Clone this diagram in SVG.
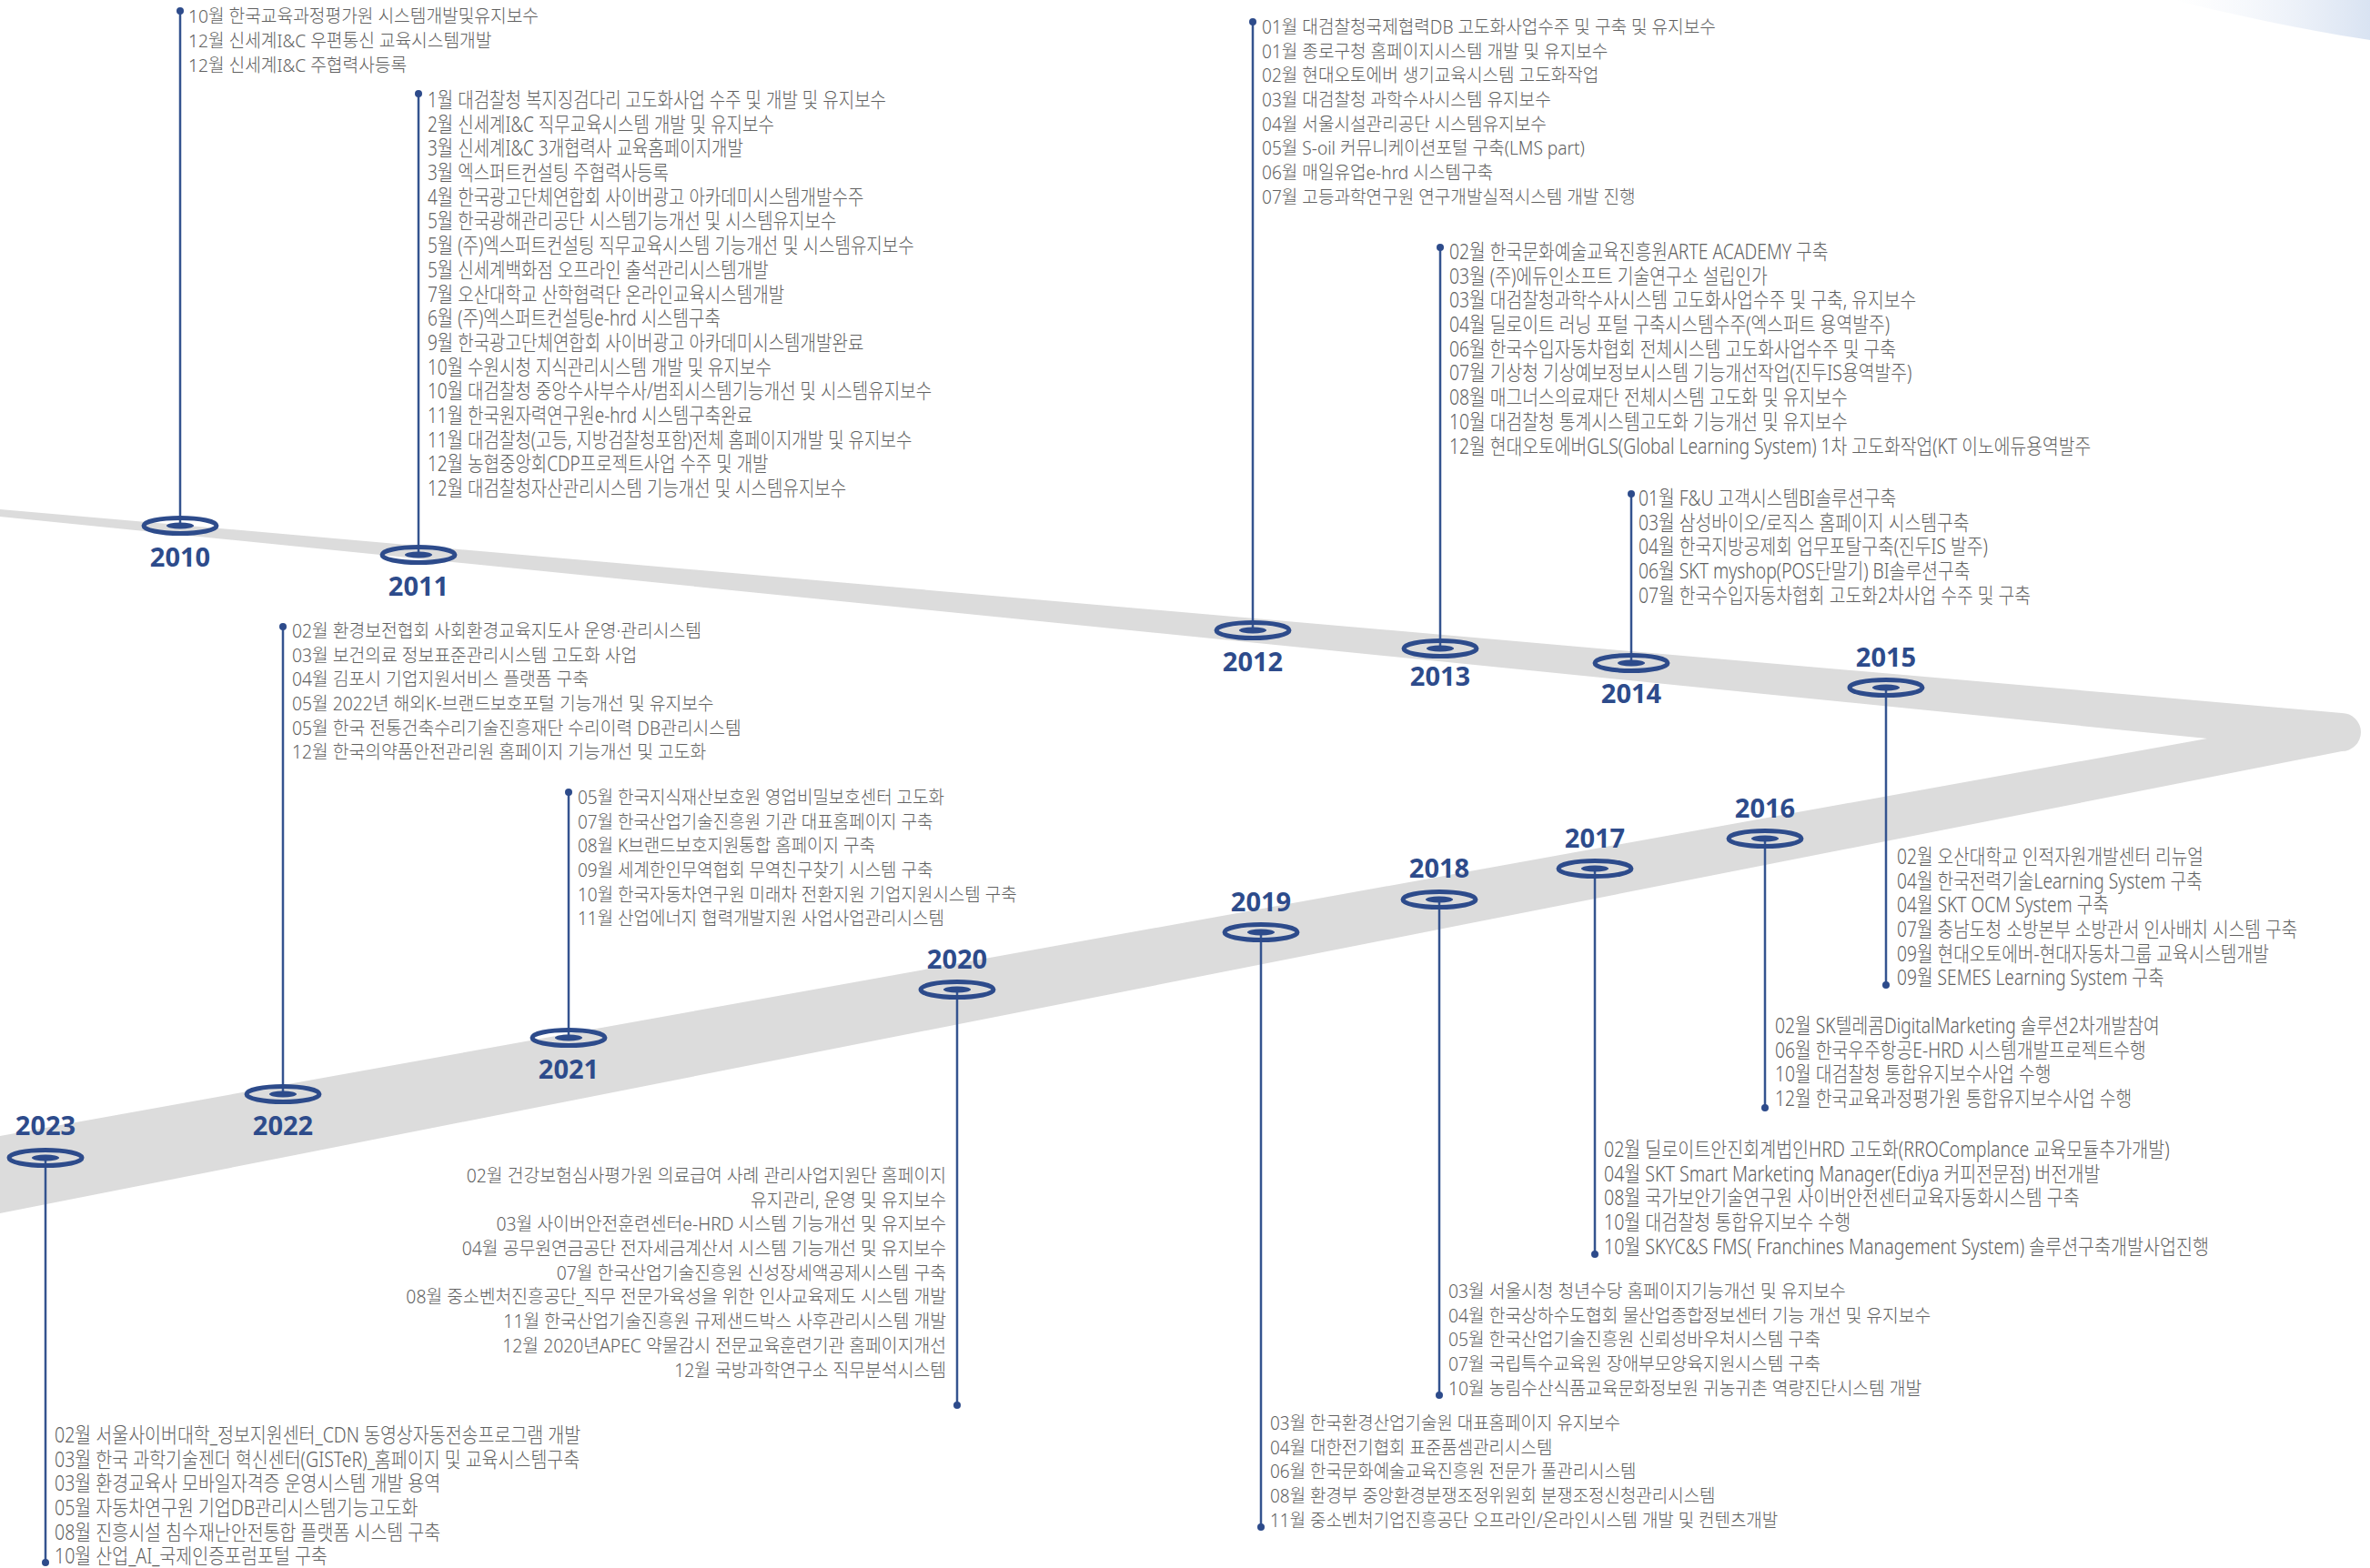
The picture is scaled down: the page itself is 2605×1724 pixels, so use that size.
<svg xmlns="http://www.w3.org/2000/svg" width="2605" height="1724" viewBox="0 0 2605 1724">
<defs>
<style>
.t{font-family:"Noto Sans","Noto Sans CJK KR",sans-serif;fill:#606060;font-weight:300}
.n{font-size:20px}
.c{font-size:23px}
.r{text-anchor:end}
.yr{font-family:"Noto Sans","Liberation Sans",sans-serif;font-weight:700;font-size:29px;fill:#2d4b8b;text-anchor:middle}
.ln{stroke:#34538f;stroke-width:2.5;fill:none}
.dot{fill:#2d4b8b}
.mk{fill:none;stroke:#2d4b8b;stroke-width:5}
.mi{fill:#2d4b8b}
</style>
<linearGradient id="sw" x1="0" y1="0" x2="1" y2="0">
<stop offset="0" stop-color="#eef2f9" stop-opacity="0"/>
<stop offset="1" stop-color="#d9e3f2"/>
</linearGradient>
</defs>
<rect width="2605" height="1724" fill="#ffffff"/>
<path d="M2390,0 C2460,18 2540,34 2605,44 L2605,0 Z" fill="url(#sw)"/>
<path id="band" d="M0,560 L2574,784 A21,21 0 0 1 2574,826 L0,1334 L0,1249 L2426,812 L0,568 Z" fill="#dcdcdc"/>

<g id="connectors">
<line class="ln" x1="198" y1="12" x2="198" y2="578"/><circle class="dot" cx="198" cy="12" r="4"/>
<line class="ln" x1="460" y1="103" x2="460" y2="610"/><circle class="dot" cx="460" cy="103" r="4"/>
<line class="ln" x1="1377" y1="24" x2="1377" y2="693"/><circle class="dot" cx="1377" cy="24" r="4"/>
<line class="ln" x1="1583" y1="272" x2="1583" y2="713"/><circle class="dot" cx="1583" cy="272" r="4"/>
<line class="ln" x1="1793" y1="543" x2="1793" y2="729"/><circle class="dot" cx="1793" cy="543" r="4"/>
<line class="ln" x1="2073" y1="756" x2="2073" y2="1083"/><circle class="dot" cx="2073" cy="1083" r="4"/>
<line class="ln" x1="1940" y1="922" x2="1940" y2="1218"/><circle class="dot" cx="1940" cy="1218" r="4"/>
<line class="ln" x1="1753" y1="955" x2="1753" y2="1379"/><circle class="dot" cx="1753" cy="1379" r="4"/>
<line class="ln" x1="1582" y1="989" x2="1582" y2="1534"/><circle class="dot" cx="1582" cy="1534" r="4"/>
<line class="ln" x1="1386" y1="1025" x2="1386" y2="1679"/><circle class="dot" cx="1386" cy="1679" r="4"/>
<line class="ln" x1="1052" y1="1088" x2="1052" y2="1545"/><circle class="dot" cx="1052" cy="1545" r="4"/>
<line class="ln" x1="625" y1="871" x2="625" y2="1141"/><circle class="dot" cx="625" cy="871" r="4"/>
<line class="ln" x1="311" y1="689" x2="311" y2="1203"/><circle class="dot" cx="311" cy="689" r="4"/>
<line class="ln" x1="50" y1="1273" x2="50" y2="1718"/><circle class="dot" cx="50" cy="1718" r="4"/>
</g>

<g id="y2010">
<ellipse class="mk" cx="198" cy="578" rx="40" ry="8.5"/><ellipse class="mi" cx="198" cy="578" rx="15" ry="3.5"/>
<text class="yr" x="198" y="623">2010</text>
<g class="t n" transform="matrix(0.96,0,0,1,8.28,0)">
<text x="207" y="25">10월 한국교육과정평가원 시스템개발및유지보수</text>
<text x="207" y="52">12월 신세계I&amp;C 우편통신 교육시스템개발</text>
<text x="207" y="79">12월 신세계I&amp;C 주협력사등록</text>
</g>
</g>

<g id="y2011">
<ellipse class="mk" cx="460" cy="610" rx="40" ry="8.5"/><ellipse class="mi" cx="460" cy="610" rx="15" ry="3.5"/>
<text class="yr" x="460" y="655">2011</text>
<g class="t c" transform="matrix(0.825,0,0,1,82.25,0)">
<text x="470" y="118">1월 대검찰청 복지징검다리 고도화사업 수주 및 개발 및 유지보수</text>
<text x="470" y="144.7">2월 신세계I&amp;C 직무교육시스템 개발 및 유지보수</text>
<text x="470" y="171.4">3월 신세계I&amp;C 3개협력사 교육홈페이지개발</text>
<text x="470" y="198.1">3월 엑스퍼트컨설팅 주협력사등록</text>
<text x="470" y="224.8">4월 한국광고단체연합회 사이버광고 아카데미시스템개발수주</text>
<text x="470" y="251.5">5월 한국광해관리공단 시스템기능개선 및 시스템유지보수</text>
<text x="470" y="278.2">5월 (주)엑스퍼트컨설팅 직무교육시스템 기능개선 및 시스템유지보수</text>
<text x="470" y="304.9">5월 신세계백화점 오프라인 출석관리시스템개발</text>
<text x="470" y="331.6">7월 오산대학교 산학협력단 온라인교육시스템개발</text>
<text x="470" y="358.3">6월 (주)엑스퍼트컨설팅e-hrd 시스템구축</text>
<text x="470" y="385">9월 한국광고단체연합회 사이버광고 아카데미시스템개발완료</text>
<text x="470" y="411.7">10월 수원시청 지식관리시스템 개발 및 유지보수</text>
<text x="470" y="438.4">10월 대검찰청 중앙수사부수사/범죄시스템기능개선 및 시스템유지보수</text>
<text x="470" y="465.1">11월 한국원자력연구원e-hrd 시스템구축완료</text>
<text x="470" y="491.8">11월 대검찰청(고등, 지방검찰청포함)전체 홈페이지개발 및 유지보수</text>
<text x="470" y="518.5">12월 농협중앙회CDP프로젝트사업 수주 및 개발</text>
<text x="470" y="545.2">12월 대검찰청자산관리시스템 기능개선 및 시스템유지보수</text>
</g>
</g>

<g id="y2012">
<ellipse class="mk" cx="1377" cy="693" rx="40" ry="8.5"/><ellipse class="mi" cx="1377" cy="693" rx="15" ry="3.5"/>
<text class="yr" x="1377" y="738">2012</text>
<g class="t n" transform="matrix(0.955,0,0,1,62.415,0)">
<text x="1387" y="37">01월 대검찰청국제협력DB 고도화사업수주 및 구축 및 유지보수</text>
<text x="1387" y="63.7">01월 종로구청 홈페이지시스템 개발 및 유지보수</text>
<text x="1387" y="90.4">02월 현대오토에버 생기교육시스템 고도화작업</text>
<text x="1387" y="117.1">03월 대검찰청 과학수사시스템 유지보수</text>
<text x="1387" y="143.8">04월 서울시설관리공단 시스템유지보수</text>
<text x="1387" y="170.5">05월 S-oil 커뮤니케이션포털 구축(LMS part)</text>
<text x="1387" y="197.2">06월 매일유업e-hrd 시스템구축</text>
<text x="1387" y="223.9">07월 고등과학연구원 연구개발실적시스템 개발 진행</text>
</g>
</g>

<g id="y2013">
<ellipse class="mk" cx="1583" cy="713" rx="40" ry="8.5"/><ellipse class="mi" cx="1583" cy="713" rx="15" ry="3.5"/>
<text class="yr" x="1583" y="754">2013</text>
<g class="t c" transform="matrix(0.84,0,0,1,254.88,0)">
<text x="1593" y="285">02월 한국문화예술교육진흥원ARTE ACADEMY 구축</text>
<text x="1593" y="311.7">03월 (주)에듀인소프트 기술연구소 설립인가</text>
<text x="1593" y="338.4">03월 대검찰청과학수사시스템 고도화사업수주 및 구축, 유지보수</text>
<text x="1593" y="365.1">04월 딜로이트 러닝 포털 구축시스템수주(엑스퍼트 용역발주)</text>
<text x="1593" y="391.8">06월 한국수입자동차협회 전체시스템 고도화사업수주 및 구축</text>
<text x="1593" y="418.5">07월 기상청 기상예보정보시스템 기능개선작업(진두IS용역발주)</text>
<text x="1593" y="445.2">08월 매그너스의료재단 전체시스템 고도화 및 유지보수</text>
<text x="1593" y="471.9">10월 대검찰청 통계시스템고도화 기능개선 및 유지보수</text>
<text x="1593" y="498.6">12월 현대오토에버GLS(Global Learning System) 1차 고도화작업(KT 이노에듀용역발주</text>
</g>
</g>

<g id="y2014">
<ellipse class="mk" cx="1793" cy="729" rx="40" ry="8.5"/><ellipse class="mi" cx="1793" cy="729" rx="15" ry="3.5"/>
<text class="yr" x="1793" y="773">2014</text>
<g class="t c" transform="matrix(0.84,0,0,1,288.16,0)">
<text x="1801" y="556">01월 F&amp;U 고객시스템BI솔루션구축</text>
<text x="1801" y="582.7">03월 삼성바이오/로직스 홈페이지 시스템구축</text>
<text x="1801" y="609.4">04월 한국지방공제회 업무포탈구축(진두IS 발주)</text>
<text x="1801" y="636.1">06월 SKT myshop(POS단말기) BI솔루션구축</text>
<text x="1801" y="662.8">07월 한국수입자동차협회 고도화2차사업 수주 및 구축</text>
</g>
</g>

<g id="y2015">
<ellipse class="mk" cx="2073" cy="756" rx="40" ry="8.5"/><ellipse class="mi" cx="2073" cy="756" rx="15" ry="3.5"/>
<text class="yr" x="2073" y="733">2015</text>
<g class="t c" transform="matrix(0.835,0,0,1,344.03,0)">
<text x="2085" y="950">02월 오산대학교 인적자원개발센터 리뉴얼</text>
<text x="2085" y="976.7">04월 한국전력기술Learning System 구축</text>
<text x="2085" y="1003.4">04월 SKT OCM System 구축</text>
<text x="2085" y="1030.1">07월 충남도청 소방본부 소방관서 인사배치 시스템 구축</text>
<text x="2085" y="1056.8">09월 현대오토에버-현대자동차그룹 교육시스템개발</text>
<text x="2085" y="1083.5">09월 SEMES Learning System 구축</text>
</g>
</g>

<g id="y2016">
<ellipse class="mk" cx="1940" cy="922" rx="40" ry="8.5"/><ellipse class="mi" cx="1940" cy="922" rx="15" ry="3.5"/>
<text class="yr" x="1940" y="899">2016</text>
<g class="t c" transform="matrix(0.84,0,0,1,312.16,0)">
<text x="1951" y="1136">02월 SK텔레콤DigitalMarketing 솔루션2차개발참여</text>
<text x="1951" y="1162.7">06월 한국우주항공E-HRD 시스템개발프로젝트수행</text>
<text x="1951" y="1189.4">10월 대검찰청 통합유지보수사업 수행</text>
<text x="1951" y="1216.1">12월 한국교육과정평가원 통합유지보수사업 수행</text>
</g>
</g>

<g id="y2017">
<ellipse class="mk" cx="1753" cy="955" rx="40" ry="8.5"/><ellipse class="mi" cx="1753" cy="955" rx="15" ry="3.5"/>
<text class="yr" x="1753" y="932">2017</text>
<g class="t c" transform="matrix(0.85,0,0,1,264.45,0)">
<text x="1763" y="1272">02월 딜로이트안진회계법인HRD 고도화(RROComplance 교육모듈추가개발)</text>
<text x="1763" y="1298.7">04월 SKT Smart Marketing Manager(Ediya 커피전문점) 버전개발</text>
<text x="1763" y="1325.4">08월 국가보안기술연구원 사이버안전센터교육자동화시스템 구축</text>
<text x="1763" y="1352.1">10월 대검찰청 통합유지보수 수행</text>
<text x="1763" y="1378.8">10월 SKYC&amp;S FMS( Franchines Management System) 솔루션구축개발사업진행</text>
</g>
</g>

<g id="y2018">
<ellipse class="mk" cx="1582" cy="989" rx="40" ry="8.5"/><ellipse class="mi" cx="1582" cy="989" rx="15" ry="3.5"/>
<text class="yr" x="1582" y="965">2018</text>
<g class="t n" transform="matrix(0.963,0,0,1,58.9,0)">
<text x="1592" y="1427">03월 서울시청 청년수당 홈페이지기능개선 및 유지보수</text>
<text x="1592" y="1453.7">04월 한국상하수도협회 물산업종합정보센터 기능 개선 및 유지보수</text>
<text x="1592" y="1480.4">05월 한국산업기술진흥원 신뢰성바우처시스템 구축</text>
<text x="1592" y="1507.1">07월 국립특수교육원 장애부모양육지원시스템 구축</text>
<text x="1592" y="1533.8">10월 농림수산식품교육문화정보원 귀농귀촌 역량진단시스템 개발</text>
</g>
</g>

<g id="y2019">
<ellipse class="mk" cx="1386" cy="1025" rx="40" ry="8.5"/><ellipse class="mi" cx="1386" cy="1025" rx="15" ry="3.5"/>
<text class="yr" x="1386" y="1002">2019</text>
<g class="t n" transform="matrix(0.948,0,0,1,72.59,0)">
<text x="1396" y="1572">03월 한국환경산업기술원 대표홈페이지 유지보수</text>
<text x="1396" y="1598.7">04월 대한전기협회 표준품셈관리시스템</text>
<text x="1396" y="1625.4">06월 한국문화예술교육진흥원 전문가 풀관리시스템</text>
<text x="1396" y="1652.1">08월 환경부 중앙환경분쟁조정위원회 분쟁조정신청관리시스템</text>
<text x="1396" y="1678.8">11월 중소벤처기업진흥공단 오프라인/온라인시스템 개발 및 컨텐츠개발</text>
</g>
</g>

<g id="y2020">
<ellipse class="mk" cx="1052" cy="1088" rx="40" ry="8.5"/><ellipse class="mi" cx="1052" cy="1088" rx="15" ry="3.5"/>
<text class="yr" x="1052" y="1065">2020</text>
<g class="t n r" transform="matrix(0.967,0,0,1,34.32,0)">
<text x="1040" y="1300">02월 건강보험심사평가원 의료급여 사례 관리사업지원단 홈페이지</text>
<text x="1040" y="1326.7">유지관리, 운영 및 유지보수</text>
<text x="1040" y="1353.4">03월 사이버안전훈련센터e-HRD 시스템 기능개선 및 유지보수</text>
<text x="1040" y="1380.1">04월 공무원연금공단 전자세금계산서 시스템 기능개선 및 유지보수</text>
<text x="1040" y="1406.8">07월 한국산업기술진흥원 신성장세액공제시스템 구축</text>
<text x="1040" y="1433.5">08월 중소벤처진흥공단_직무 전문가육성을 위한 인사교육제도 시스템 개발</text>
<text x="1040" y="1460.2">11월 한국산업기술진흥원 규제샌드박스 사후관리시스템 개발</text>
<text x="1040" y="1486.9">12월 2020년APEC 약물감시 전문교육훈련기관 홈페이지개선</text>
<text x="1040" y="1513.6">12월 국방과학연구소 직무분석시스템</text>
</g>
</g>

<g id="y2021">
<ellipse class="mk" cx="625" cy="1141" rx="40" ry="8.5"/><ellipse class="mi" cx="625" cy="1141" rx="15" ry="3.5"/>
<text class="yr" x="625" y="1186">2021</text>
<g class="t n" transform="matrix(0.949,0,0,1,32.39,0)">
<text x="635" y="884">05월 한국지식재산보호원 영업비밀보호센터 고도화</text>
<text x="635" y="910.7">07월 한국산업기술진흥원 기관 대표홈페이지 구축</text>
<text x="635" y="937.4">08월 K브랜드보호지원통합 홈페이지 구축</text>
<text x="635" y="964.1">09월 세계한인무역협회 무역친구찾기 시스템 구축</text>
<text x="635" y="990.8">10월 한국자동차연구원 미래차 전환지원 기업지원시스템 구축</text>
<text x="635" y="1017.5">11월 산업에너지 협력개발지원 사업사업관리시스템</text>
</g>
</g>

<g id="y2022">
<ellipse class="mk" cx="311" cy="1203" rx="40" ry="8.5"/><ellipse class="mi" cx="311" cy="1203" rx="15" ry="3.5"/>
<text class="yr" x="311" y="1248">2022</text>
<g class="t n" transform="matrix(0.965,0,0,1,11.24,0)">
<text x="321" y="701">02월 환경보전협회 사회환경교육지도사 운영·관리시스템</text>
<text x="321" y="727.7">03월 보건의료 정보표준관리시스템 고도화 사업</text>
<text x="321" y="754.4">04월 김포시 기업지원서비스 플랫폼 구축</text>
<text x="321" y="781.1">05월 2022년 해외K-브랜드보호포털 기능개선 및 유지보수</text>
<text x="321" y="807.8">05월 한국 전통건축수리기술진흥재단 수리이력 DB관리시스템</text>
<text x="321" y="834.5">12월 한국의약품안전관리원 홈페이지 기능개선 및 고도화</text>
</g>
</g>

<g id="y2023">
<ellipse class="mk" cx="50" cy="1273" rx="40" ry="8.5"/><ellipse class="mi" cx="50" cy="1273" rx="15" ry="3.5"/>
<text class="yr" x="50" y="1248">2023</text>
<g class="t c" transform="matrix(0.848,0,0,1,9.12,0)">
<text x="60" y="1586">02월 서울사이버대학_정보지원센터_CDN 동영상자동전송프로그램 개발</text>
<text x="60" y="1612.7">03월 한국 과학기술젠더 혁신센터(GISTeR)_홈페이지 및 교육시스템구축</text>
<text x="60" y="1639.4">03월 환경교육사 모바일자격증 운영시스템 개발 용역</text>
<text x="60" y="1666.1">05월 자동차연구원 기업DB관리시스템기능고도화</text>
<text x="60" y="1692.8">08월 진흥시설 침수재난안전통합 플랫폼 시스템 구축</text>
<text x="60" y="1719.5">10월 산업_AI_국제인증포럼포털 구축</text>
</g>
</g>
</svg>
